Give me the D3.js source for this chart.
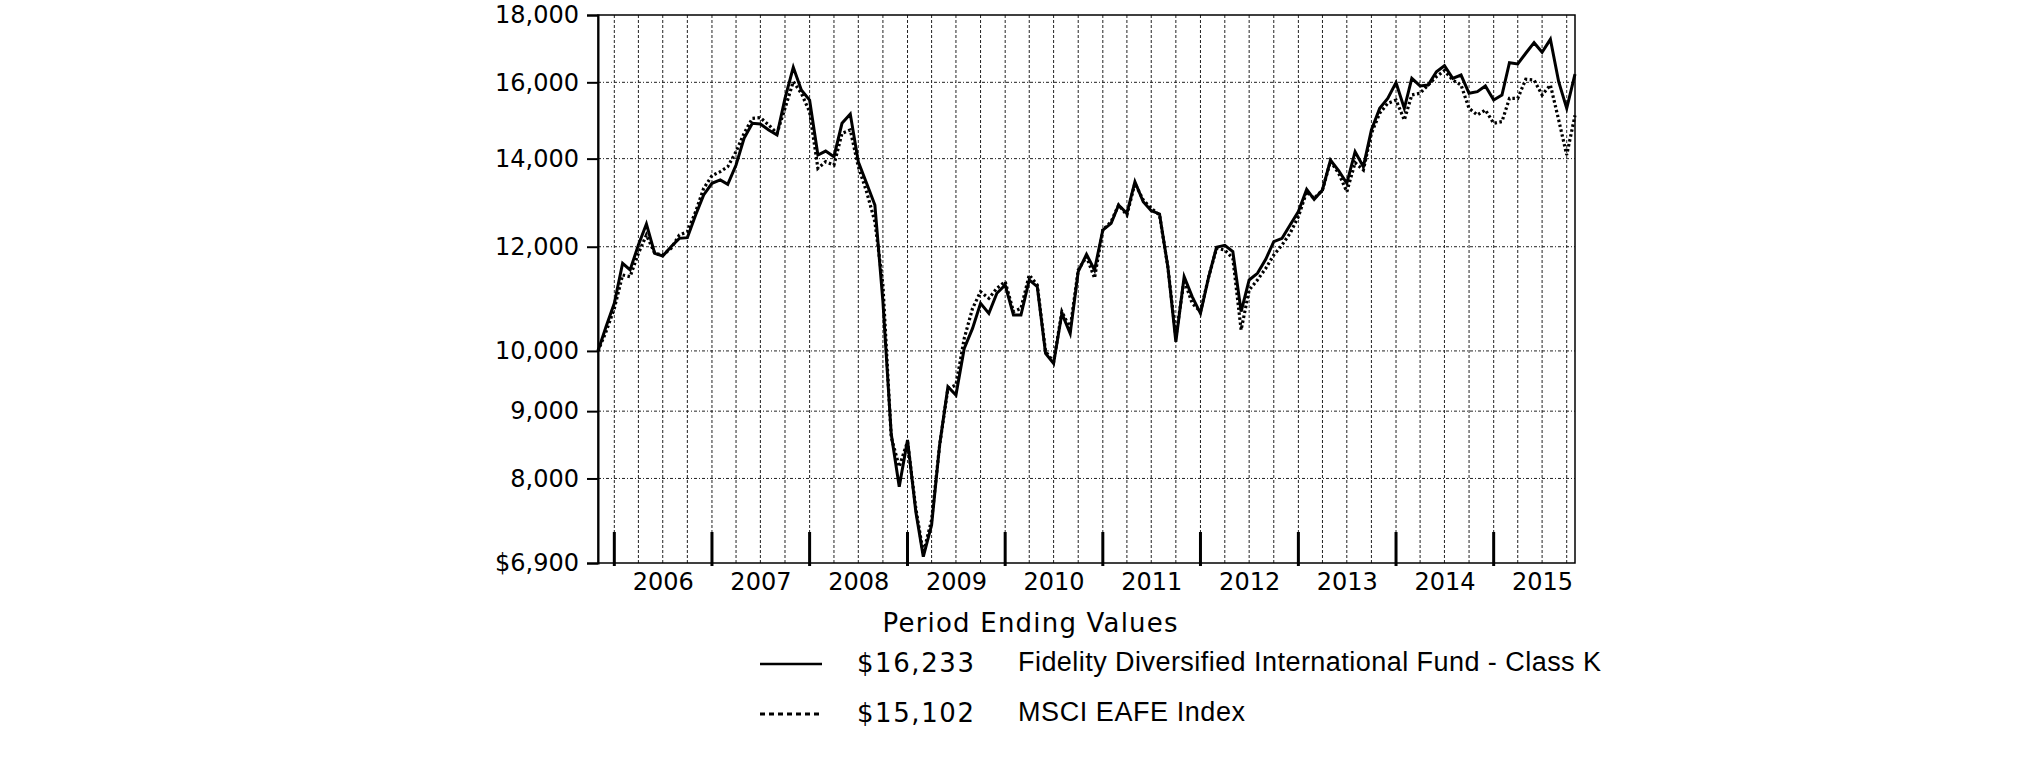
<!DOCTYPE html>
<html><head><meta charset="utf-8">
<script src="https://cdn.jsdelivr.net/npm/d3@7"></script>
<style>body{margin:0;background:#fff;} svg{display:block}</style>
</head><body>
<svg id="chart" width="2026" height="763"></svg>
<script>
// ---- data ----
const fundName = "Fidelity Diversified International Fund - Class K";
const indexName = "MSCI EAFE Index";
const endingValues = ["$16,233", "$15,102"];
const legendTitle = "Period Ending Values";

// month-end values, Oct 2005 .. Oct 2015
const fundValues = [
 10000,10433,10868,11657,11522,12037,12487,11862,11806,12000,12177,12191,
 12685,13137,13408,13487,13384,13844,14506,14893,14875,14719,14591,15557,
 16425,15786,15512,14089,14187,14047,14893,15138,13925,13408,12908,10900,
 8650,7886,8557,7547,6977,7374,8482,9392,9257,10045,10402,10869,
 10680,11061,11223,10648,10648,11322,11189,9958,9785,10680,10312,11488,
 11841,11522,12357,12501,12908,12722,13446,12983,12782,12708,11588,10162,
 11387,10997,10680,11387,11988,12028,11898,10712,11322,11455,11740,12107,
 12177,12465,12760,13268,13037,13252,13966,13705,13408,14171,13804,14719,
 15287,15557,15990,15287,16112,15898,15925,16300,16472,16112,16205,15696,
 15740,15898,15512,15649,16558,16522,16834,17149,16862,17250,16018,15287,
 16233];
const indexValues = [
 10000,10342,10773,11421,11387,11862,12249,11862,11827,11966,12249,12319,
 12760,13291,13588,13685,13804,14171,14634,15023,15040,14849,14634,15287,
 16018,15696,15198,13765,13925,13844,14634,14719,13804,13212,12537,11223,
 8600,8167,8532,7593,7018,7440,8482,9363,9421,10222,10773,11092,
 10964,11157,11290,10712,10773,11421,11223,9990,9810,10712,10402,11522,
 11792,11360,12357,12540,12908,12685,13408,13023,12834,12685,11588,10253,
 11322,10869,10712,11387,11966,11930,11760,10373,11124,11322,11555,11827,
 12037,12285,12648,13212,13061,13252,13940,13640,13212,13900,13725,14634,
 15157,15422,15512,14980,15649,15696,15925,16159,16330,16065,15925,15287,
 15111,15244,14893,14936,15557,15557,16085,16065,15649,15925,14980,14089,
 15102];

const yTickValues = [6900, 8000, 9000, 10000, 12000, 14000, 16000, 18000];
const yTickLabels = ["$6,900","8,000","9,000","10,000","12,000","14,000","16,000","18,000"];
const yGridValues = [8000, 9000, 10000, 12000, 14000, 16000];
const yearLabels = ["2006","2007","2008","2009","2010","2011","2012","2013","2014","2015"];

// ---- chart ----
const svg = d3.select("#chart");
const P = {left:598, right:1575, top:15, bottom:563};

// month-end dates represented by the first day of the following month
const dates = d3.utcMonth.range(new Date(Date.UTC(2005,10,1)), new Date(Date.UTC(2015,11,1)));
const x = d3.scaleUtc().domain([dates[0], dates[dates.length-1]]).range([P.left, P.right]);
const y = d3.scaleLog().domain([6900, 18000]).range([P.bottom, P.top]);

const valueFont = "'DejaVu Sans', Verdana, sans-serif";

// horizontal grid
svg.append("g").selectAll("line").data(yGridValues).join("line")
  .attr("x1", P.left).attr("x2", P.right)
  .attr("y1", d => y(d)).attr("y2", d => y(d))
  .attr("stroke", "#222").attr("stroke-width", 1)
  .attr("stroke-dasharray", "3,2,1,2");

// vertical grid (quarter ends)
const quarters = d3.utcMonth.every(3).range(new Date(Date.UTC(2006,0,1)), new Date(Date.UTC(2015,10,1)));
svg.append("g").selectAll("line").data(quarters).join("line")
  .attr("x1", d => x(d)).attr("x2", d => x(d))
  .attr("y1", P.top).attr("y2", P.bottom)
  .attr("stroke", "#222").attr("stroke-width", 1)
  .attr("stroke-dasharray", "3,2");

// series lines
const line = d3.line().x((d, i) => x(dates[i])).y(d => y(d));
svg.append("path").datum(indexValues)
  .attr("d", line).attr("fill", "none").attr("stroke", "#000")
  .attr("stroke-width", 3.2).attr("stroke-dasharray", "2.5,2.5");
svg.append("path").datum(fundValues)
  .attr("d", line).attr("fill", "none").attr("stroke", "#000")
  .attr("stroke-width", 3).attr("stroke-linejoin", "miter");

// frame
svg.append("rect").attr("x", P.left).attr("y", P.top)
  .attr("width", P.right - P.left).attr("height", P.bottom - P.top)
  .attr("fill", "none").attr("stroke", "#000").attr("stroke-width", 1.5);

// y axis
const yAxis = d3.axisLeft(y).tickValues(yTickValues)
  .tickFormat((d, i) => yTickLabels[i]).tickSize(11).tickPadding(8);
const gy = svg.append("g").attr("transform", `translate(${P.left},0)`).call(yAxis);
gy.select(".domain").attr("stroke-width", 2);
gy.selectAll(".tick line").attr("stroke-width", 2);
gy.selectAll(".tick text").attr("font-family", valueFont).attr("font-size", 24).attr("fill", "#000");

// year tick marks at year boundaries
const yearStarts = d3.utcYear.range(new Date(Date.UTC(2006,0,1)), new Date(Date.UTC(2015,10,1)));
svg.append("g").selectAll("line").data(yearStarts).join("line")
  .attr("x1", d => x(d)).attr("x2", d => x(d))
  .attr("y1", P.bottom - 31).attr("y2", P.bottom + 3)
  .attr("stroke", "#000").attr("stroke-width", 3);

// year labels centred in each year
const xAxis = d3.axisBottom(x)
  .tickValues(yearLabels.map(yr => new Date(Date.UTC(+yr, 6, 1))))
  .tickFormat((d, i) => yearLabels[i]).tickSize(0).tickPadding(10);
const gx = svg.append("g").attr("transform", `translate(0,${P.bottom})`).call(xAxis);
gx.select(".domain").remove();
gx.selectAll(".tick text").attr("font-family", valueFont).attr("font-size", 24).attr("fill", "#000");

// legend
svg.append("text").attr("x", 1030).attr("y", 632).attr("text-anchor", "middle")
  .attr("font-family", "'DejaVu Sans', sans-serif").attr("font-size", 26)
  .attr("textLength", 295).attr("lengthAdjust", "spacing")
  .text(legendTitle);

const legendRows = [
  {name: fundName, value: endingValues[0], dash: null, ly: 664, ty: 672, w: 583},
  {name: indexName, value: endingValues[1], dash: "5,4", ly: 714, ty: 722, w: 227}
];
const lg = svg.append("g").selectAll("g").data(legendRows).join("g");
lg.append("line").attr("x1", 760).attr("x2", 822)
  .attr("y1", d => d.ly).attr("y2", d => d.ly)
  .attr("stroke", "#000").attr("stroke-width", d => d.dash ? 3 : 2.5)
  .attr("stroke-dasharray", d => d.dash);
lg.append("text").attr("x", 857).attr("y", d => d.ty)
  .attr("font-family", valueFont).attr("font-size", 26)
  .attr("textLength", 117).attr("lengthAdjust", "spacing")
  .text(d => d.value);
lg.append("text").attr("x", 1018).attr("y", d => d.ty - 1)
  .attr("font-family", "'Liberation Sans', Arial, sans-serif").attr("font-size", 27)
  .attr("textLength", d => d.w).attr("lengthAdjust", "spacing")
  .text(d => d.name);
</script>
</body></html>
